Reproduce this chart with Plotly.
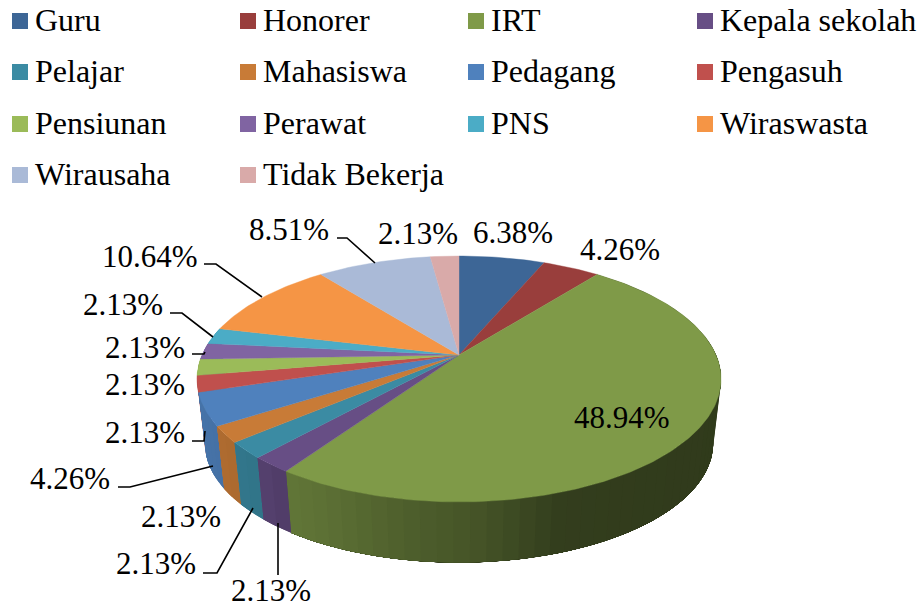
import numpy as np
import plotly.graph_objects as go

# ---- data ----
categories = ["Guru", "Honorer", "IRT", "Kepala sekolah", "Pelajar", "Mahasiswa", "Pedagang",
              "Pengasuh", "Pensiunan", "Perawat", "PNS", "Wiraswasta", "Wirausaha", "Tidak Bekerja"]
percent = [6.38, 4.26, 48.94, 2.13, 2.13, 2.13, 4.26, 2.13, 2.13, 2.13, 2.13, 10.64, 8.51, 2.13]
colors = ["#3D6696", "#993E3C", "#7F9A48", "#674E85", "#3B8BA3", "#C87B37", "#4F81BD",
          "#C0504D", "#9BBB59", "#8064A2", "#4BACC6", "#F59545", "#AABAD7", "#D9AAA9"]

# ---- layout (pixel space of a 921x609 page) ----
W, H = 921, 609
CX, CY = 459, 355
A, B, K = 257, 118.3, 0.195
DROP, SHRINK = 65, 0.97
FONT = "Liberation Serif"
LABEL_SIZE = 31
LEGEND_SIZE = 32
legend_x = [20, 248, 476, 705]
legend_text_dx = 15
legend_y = [20, 71, 123, 174]
label_pos = [(513, 232), (620, 249), (622, 417), (271, 590), (156, 563), (181, 516), (70, 478),
             (145, 432), (145, 384), (145, 347), (123, 304), (150, 256), (289, 229), (418, 233)]
leaders = [
    [(278, 523), (278, 575)],
    [(253, 508), (217, 573), (203, 573)],
    [(213, 466), (130, 487), (118, 487)],
    [(192, 441), (204, 441), (205, 431)],
    [(192, 354), (204, 354), (205, 352)],
    [(170, 313), (182, 313), (213, 337)],
    [(204, 264), (216, 264), (262, 297)],
    [(337, 238), (347, 238), (375, 263)],
]
shade_x = [200, 260, 290, 330, 400, 480, 560, 720]
shade_f = [0.89, 0.83, 0.76, 0.72, 0.62, 0.54, 0.40, 0.38]


def rim(theta, scale=1.0, drop=0.0):
    u, v = np.sin(theta), np.cos(theta)
    w = 1 + K * v
    return CX + scale * A * u / w, CY + drop - scale * B * v / w


def shaded(hex_col, f):
    r, g, b = (int(hex_col[i:i + 2], 16) for i in (1, 3, 5))
    return f"rgb({r * f:.0f},{g * f:.0f},{b * f:.0f})"


def wall_band(a, b, colour, n=4):
    tt = np.linspace(a, b, n)
    xt, yt = rim(tt)
    xb, yb = rim(tt[::-1], SHRINK, DROP)
    fig.add_trace(go.Scatter(x=np.r_[xt, xb, xt[0]], y=np.r_[yt, yb, yt[0]], mode="lines",
                             fill="toself", fillcolor=colour, line=dict(color=colour, width=0),
                             hoverinfo="skip", showlegend=False))


fig = go.Figure()
edges = np.radians(np.concatenate([[0], np.cumsum(percent)]) / sum(percent) * 360)

# side wall: each slice gets a flat base, then overlapping gradient bands (front slices last)
order = sorted(range(len(colors)), key=lambda j: -np.cos((edges[j] + edges[j + 1]) / 2))
for i in order:
    col = colors[i]
    lo, hi = edges[i], edges[i + 1]
    if np.cos(hi) > 0.2 and np.cos(lo) > 0.2:
        continue
    xm = rim((lo + hi) / 2)[0]
    wall_band(lo, hi, shaded(col, float(np.interp(xm, shade_x, shade_f))), n=60)
    t = np.linspace(lo, hi, max(2, int(np.degrees(hi - lo) / 3)) + 1)
    for a, b in zip(t[:-1], t[1:]):
        if np.cos((a + b) / 2) > 0.2:
            continue
        xa = rim((a + b) / 2)[0]
        # each band runs on to the slice's end so that no seam shows between bands
        wall_band(a, hi, shaded(col, float(np.interp(xa, shade_x, shade_f))), n=max(4, int(np.degrees(hi - a) / 2)))

# top face
for i, (name, col) in enumerate(zip(categories, colors)):
    t = np.linspace(edges[i], edges[i + 1], max(6, int(np.degrees(edges[i + 1] - edges[i]))))
    x, y = rim(t)
    fig.add_trace(go.Scatter(x=np.r_[CX, x, CX], y=np.r_[CY, y, CY], mode="lines",
                             fill="toself", fillcolor=col, line=dict(color=col, width=0.4),
                             name=name, hoverinfo="name", showlegend=False))

# leader lines
for pts in leaders:
    fig.add_trace(go.Scatter(x=[p[0] for p in pts], y=[p[1] for p in pts], mode="lines",
                             line=dict(color="#000000", width=1.6), hoverinfo="skip", showlegend=False))

# legend swatches and texts
annotations = []
for i, (name, col) in enumerate(zip(categories, colors)):
    lx, ly = legend_x[i % 4], legend_y[i // 4]
    fig.add_trace(go.Scatter(x=[lx], y=[ly + 1], mode="markers", hoverinfo="skip", showlegend=False,
                             marker=dict(symbol="square", size=16, color=col, line=dict(width=0))))
    annotations.append(dict(x=lx + legend_text_dx, y=ly, text=name, xanchor="left", yanchor="middle",
                            showarrow=False, xref="x", yref="y", xshift=-2,
                            font=dict(family=FONT, size=LEGEND_SIZE, color="#000000")))
# data labels
for (lx, ly), p in zip(label_pos, percent):
    annotations.append(dict(x=lx, y=ly, text=f"{p:.2f}%", xanchor="center", yanchor="middle",
                            showarrow=False, xref="x", yref="y",
                            font=dict(family=FONT, size=LABEL_SIZE, color="#000000")))

fig.update_layout(
    width=W, height=H, margin=dict(l=0, r=0, t=0, b=0), autosize=False,
    paper_bgcolor="#ffffff", plot_bgcolor="#ffffff", showlegend=False,
    xaxis=dict(range=[0, W], visible=False, fixedrange=True),
    yaxis=dict(range=[H, 0], visible=False, fixedrange=True),
    annotations=annotations,
)
fig.write_html("out.html", config=dict(displayModeBar=False),
               post_script="document.body.style.margin='0';document.body.style.overflow='hidden';")
